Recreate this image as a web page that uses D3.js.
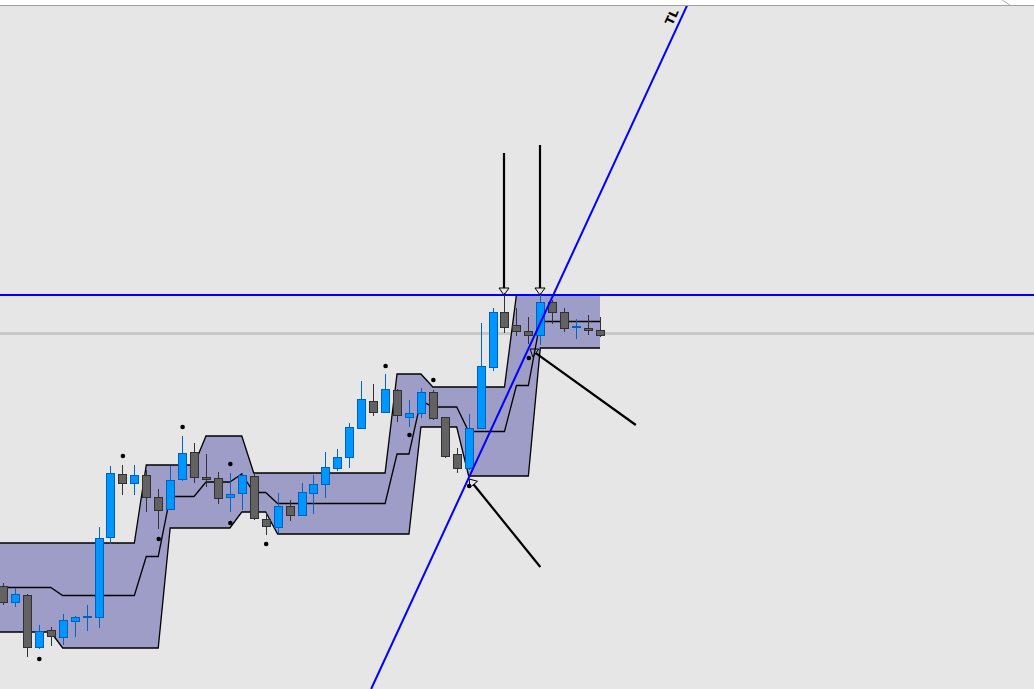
<!DOCTYPE html>
<html>
<head>
<meta charset="utf-8">
<script src="https://cdn.jsdelivr.net/npm/d3@7"></script>
<style>
  html, body { margin: 0; padding: 0; background: #fff; overflow: hidden; }
</style>
</head>
<body>
<svg id="chart" width="1034" height="689"></svg>
<script>
// candles, oldest first (price units)
const opens = [1.0914,1.0898,1.0905,1.0853,1.0870,1.0863,1.0879,1.0883,1.0883,1.0963,
  1.1026,1.1017,1.1025,1.1003,1.0991,1.1021,1.1048,1.1023,1.1022,1.1003,
  1.1007,1.1024,1.0981,1.0973,1.0994,1.0985,1.1007,1.1016,1.1032,1.1043,
  1.1072,1.1099,1.1088,1.1110,1.1083,1.1087,1.1108,1.1083,1.1046,1.1032,
  1.1072,1.1133,1.1188,1.1175,1.1169,1.1165,1.1198,1.1188,1.1173,1.1172,1.1170];
const highs = [1.0917,1.0912,1.0906,1.0875,1.0873,1.0886,1.0884,1.0895,1.0973,1.1034,
  1.1035,1.1035,1.1030,1.1011,1.1034,1.1064,1.1057,1.1046,1.1028,1.1027,
  1.1027,1.1027,1.0987,1.1007,1.1000,1.1017,1.1025,1.1048,1.1051,1.1077,
  1.1119,1.1116,1.1126,1.1111,1.1100,1.1112,1.1110,1.1083,1.1052,1.1086,
  1.1177,1.1192,1.1207,1.1192,1.1183,1.1207,1.1200,1.1192,1.1181,1.1185,1.1183];
const lows = [1.0895,1.0893,1.0843,1.0851,1.0854,1.0855,1.0863,1.0869,1.0872,1.0956,
  1.1005,1.1005,1.0988,1.0971,1.0990,1.1019,1.1017,1.1013,1.0996,1.0988,
  1.0990,1.0980,1.0965,1.0967,1.0979,1.0984,1.0986,1.1002,1.1029,1.1032,
  1.1071,1.1084,1.1087,1.1078,1.1073,1.1082,1.1080,1.1042,1.1027,1.1030,
  1.1071,1.1129,1.1167,1.1164,1.1156,1.1155,1.1176,1.1168,1.1161,1.1165,1.1163];
const closes = [1.0898,1.0906,1.0853,1.0869,1.0864,1.0880,1.0883,1.0884,1.0962,1.1027,
  1.1017,1.1025,1.1003,1.0990,1.1020,1.1047,1.1023,1.1021,1.1002,1.1006,
  1.1025,1.0982,1.0974,1.0994,1.0985,1.1008,1.1016,1.1033,1.1043,1.1073,
  1.1101,1.1088,1.1111,1.1085,1.1087,1.1108,1.1082,1.1044,1.1032,1.1072,
  1.1134,1.1188,1.1173,1.1169,1.1165,1.1198,1.1188,1.1172,1.1174,1.1170,1.1165];

// price channel, one value per candle
const chanUpper = [1.0957,1.0957,1.0957,1.0957,1.0957,1.0957,1.0957,1.0957,1.0957,1.0957,
  1.0957,1.0957,1.1035,1.1035,1.1035,1.1035,1.1035,1.1064,1.1064,1.1064,
  1.1064,1.1027,1.1027,1.1027,1.1027,1.1027,1.1027,1.1027,1.1027,1.1027,
  1.1027,1.1027,1.1027,1.1126,1.1126,1.1126,1.1113,1.1113,1.1113,1.1113,
  1.1113,1.1113,1.1113,1.1205,1.1205,1.1205,1.1205,1.1205,1.1205,1.1205,1.1205];
const chanMid = [1.09125,1.09125,1.09125,1.09125,1.09125,1.09045,1.09045,1.09045,1.09045,1.09045,
  1.09045,1.09045,1.09435,1.09435,1.10035,1.10035,1.10035,1.1018,1.1018,1.1018,
  1.1026,1.10075,1.10075,1.09965,1.09965,1.09965,1.09965,1.09965,1.09965,1.09965,
  1.09965,1.09965,1.09965,1.1046,1.1046,1.10995,1.1093,1.1093,1.1093,1.10685,
  1.10685,1.10685,1.10685,1.11145,1.11145,1.11785,1.11785,1.11785,1.11785,1.11785,1.11785];
const chanLower = [1.0868,1.0868,1.0868,1.0868,1.0868,1.0852,1.0852,1.0852,1.0852,1.0852,
  1.0852,1.0852,1.0852,1.0852,1.0972,1.0972,1.0972,1.0972,1.0972,1.0972,
  1.0988,1.0988,1.0988,1.0966,1.0966,1.0966,1.0966,1.0966,1.0966,1.0966,
  1.0966,1.0966,1.0966,1.0966,1.0966,1.1073,1.1073,1.1073,1.1073,1.1024,
  1.1024,1.1024,1.1024,1.1024,1.1024,1.1152,1.1152,1.1152,1.1152,1.1152,1.1152];

// fractal dots
const fractalIdx = [3, 10, 13, 15, 19, 19, 22, 32, 34, 36, 39, 44];
const fractalPrice = [1.0841, 1.1044, 1.0961, 1.1073, 1.1036, 1.0977, 1.0956, 1.1134, 1.1065, 1.1120, 1.1014, 1.1142];

// arrow objects: tip (bar, price) and tail (bar, price)
const arrowTipIdx = [42, 45, 44.15, 39.05];
const arrowTipPrice = [1.1205, 1.1205, 1.1151, 1.1021];
const arrowTailIdx = [42, 45, 53.0, 45.0];
const arrowTailPrice = [1.1347, 1.1355, 1.1075, 1.0933];

// trend line "TL" through two anchors, horizontal levels
const tlIdx = [39, 45];
const tlPrice = [1.1022, 1.1177];
const tlLabel = "TL";
const levelPrice = 1.1205;
const bidPrice = 1.11665;

const W = 1034, H = 689, topY = 5;
const svg = d3.select("#chart");

const x = d3.scaleLinear().domain([0, 50]).range([3, 600]);
const y = d3.scaleLinear().domain([1.0811, 1.15]).range([H, 0]);

// frame
svg.append("rect").attr("x", 0).attr("y", 0).attr("width", W).attr("height", topY).style("fill", "#ffffff");
svg.append("rect").attr("x", 0).attr("y", topY).attr("width", W).attr("height", H - topY).style("fill", "#e6e6e6");
svg.append("line").attr("x1", 0).attr("x2", W).attr("y1", topY + 0.5).attr("y2", topY + 0.5)
  .style("stroke", "#a0a0a0").style("stroke-width", 1);
svg.append("line").attr("x1", 1002).attr("y1", 0).attr("x2", 1010).attr("y2", topY)
  .style("stroke", "#b0b0b0").style("stroke-width", 1);

svg.append("clipPath").attr("id", "plot-clip")
  .append("rect").attr("x", 0).attr("y", topY + 1).attr("width", W).attr("height", H - topY - 1);
const plot = svg.append("g").attr("clip-path", "url(#plot-clip)");

// bid line
plot.append("line")
  .attr("x1", 0).attr("x2", W)
  .attr("y1", y(bidPrice)).attr("y2", y(bidPrice))
  .style("stroke", "#c8c8c8").style("stroke-width", 3);

// channel (one extra step off the left edge)
const steps = d3.range(-1, opens.length);
const at = (arr, i) => arr[Math.max(i, 0)];
plot.append("path")
  .datum(steps)
  .attr("d", d3.area().x(i => x(i)).y0(i => y(at(chanLower, i))).y1(i => y(at(chanUpper, i))))
  .style("fill", "#9e9dc8");
[chanUpper, chanMid, chanLower].forEach(arr => {
  plot.append("path")
    .datum(steps)
    .attr("d", d3.line().x(i => x(i)).y(i => y(at(arr, i))))
    .style("fill", "none")
    .style("stroke", "#000")
    .style("stroke-width", 1.3);
});

// horizontal level
plot.append("line")
  .attr("x1", 0).attr("x2", W)
  .attr("y1", y(levelPrice)).attr("y2", y(levelPrice))
  .style("stroke", "#0000ff").style("stroke-width", 2);

// candles
const candles = opens.map((o, i) => ({ i, o, h: highs[i], l: lows[i], c: closes[i] }));
const cg = plot.selectAll(".candle").data(candles).enter().append("g").attr("class", "candle");
cg.append("line")
  .attr("x1", d => Math.round(x(d.i)) + 0.5).attr("x2", d => Math.round(x(d.i)) + 0.5)
  .attr("y1", d => y(d.h)).attr("y2", d => y(d.l))
  .style("stroke", d => d.c >= d.o ? "#0064c8" : "#323232")
  .style("stroke-width", 1);
cg.append("rect")
  .attr("x", d => Math.round(x(d.i)) - 3.5)
  .attr("width", 8)
  .attr("y", d => Math.round(y(Math.max(d.o, d.c))) + 0.5)
  .attr("height", d => Math.max(1, Math.round(Math.abs(y(d.o) - y(d.c)))))
  .style("fill", d => d.c >= d.o ? "#0096ff" : "#626262")
  .style("stroke", d => d.c >= d.o ? "#0060c0" : "#303030")
  .style("stroke-width", 1);

// fractals
plot.selectAll(".fractal")
  .data(fractalIdx.map((f, k) => ({ i: f, p: fractalPrice[k] })))
  .enter().append("circle")
  .attr("class", "fractal")
  .attr("cx", d => x(d.i) + 0.5).attr("cy", d => y(d.p))
  .attr("r", 2.3)
  .style("fill", "#000");

// trend line, extended over the whole plot
const p0 = [x(tlIdx[0]), y(tlPrice[0])], p1 = [x(tlIdx[1]), y(tlPrice[1])];
const k = (p1[0] - p0[0]) / (p1[1] - p0[1]);
const xAt = yy => p0[0] + (yy - p0[1]) * k;
plot.append("line")
  .attr("x1", xAt(H)).attr("y1", H)
  .attr("x2", xAt(topY)).attr("y2", topY)
  .style("stroke", "#0000ff").style("stroke-width", 2);
const ang = Math.atan2(-1, -k) * 180 / Math.PI;
const ly = 17;
plot.append("text")
  .attr("transform", `translate(${xAt(ly) - 10},${ly}) rotate(${ang > 90 || ang < -90 ? ang + 180 : ang})`)
  .attr("text-anchor", "middle")
  .attr("dy", "0.35em")
  .style("font-family", "'DejaVu Sans', sans-serif")
  .style("font-weight", "bold")
  .style("font-size", "12px")
  .text(tlLabel);

// arrows (vertical ones snapped to the pixel grid)
const arrows = arrowTipIdx.map((a, j) => {
  const vertical = a === arrowTailIdx[j];
  const tx = vertical ? Math.round(x(a)) : x(a);
  return { tx, ty: y(arrowTipPrice[j]), sx: vertical ? tx : x(arrowTailIdx[j]), sy: y(arrowTailPrice[j]) };
});
arrows.forEach(a => {
  const dx = a.sx - a.tx, dy = a.sy - a.ty, len = Math.hypot(dx, dy);
  const ux = dx / len, uy = dy / len;
  const bx = a.tx + ux * 7, by = a.ty + uy * 7;
  plot.append("line")
    .attr("x1", a.sx).attr("y1", a.sy).attr("x2", bx).attr("y2", by)
    .style("stroke", "#000").style("stroke-width", 2.2);
  plot.append("path")
    .attr("d", d3.line()([[a.tx, a.ty], [bx - uy * 5, by + ux * 5], [bx + uy * 5, by - ux * 5]]) + "Z")
    .style("fill", "none").style("stroke", "#000").style("stroke-width", 1);
});
</script>
</body>
</html>
